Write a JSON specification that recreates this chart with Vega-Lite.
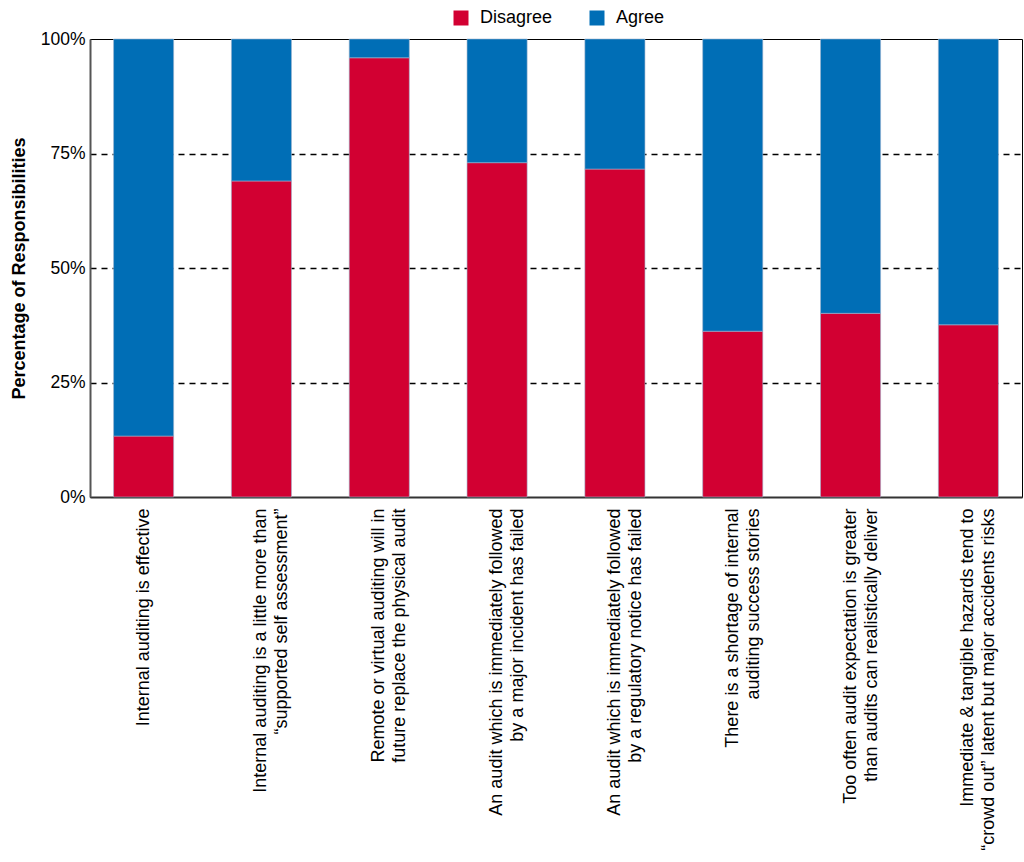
{
  "$schema": "https://vega.github.io/schema/vega-lite/v6.json",
  "width": 932,
  "height": 458,
  "autosize": "none",
  "padding": {"left": 90, "top": 39, "right": 2, "bottom": 365},
  "background": "white",
  "view": {"stroke": "black", "strokeWidth": 1},
  "data": {
    "values": [
      {"item": 1, "statement": ["Internal auditing is effective"], "response": "Disagree", "pct": 13.3},
      {"item": 1, "statement": ["Internal auditing is effective"], "response": "Agree", "pct": 86.7},
      {"item": 2, "statement": ["Internal auditing is a little more than", "“supported self assessment”"], "response": "Disagree", "pct": 69.0},
      {"item": 2, "statement": ["Internal auditing is a little more than", "“supported self assessment”"], "response": "Agree", "pct": 31.0},
      {"item": 3, "statement": ["Remote or virtual auditing will in", "future replace the physical audit"], "response": "Disagree", "pct": 95.9},
      {"item": 3, "statement": ["Remote or virtual auditing will in", "future replace the physical audit"], "response": "Agree", "pct": 4.1},
      {"item": 4, "statement": ["An audit which is immediately followed", "by a major incident has failed"], "response": "Disagree", "pct": 73.0},
      {"item": 4, "statement": ["An audit which is immediately followed", "by a major incident has failed"], "response": "Agree", "pct": 27.0},
      {"item": 5, "statement": ["An audit which is immediately followed", "by a regulatory notice has failed"], "response": "Disagree", "pct": 71.6},
      {"item": 5, "statement": ["An audit which is immediately followed", "by a regulatory notice has failed"], "response": "Agree", "pct": 28.4},
      {"item": 6, "statement": ["There is a shortage of internal", "auditing success  stories"], "response": "Disagree", "pct": 36.2},
      {"item": 6, "statement": ["There is a shortage of internal", "auditing success  stories"], "response": "Agree", "pct": 63.8},
      {"item": 7, "statement": ["Too often audit expectation is greater", "than audits can realistically deliver"], "response": "Disagree", "pct": 40.1},
      {"item": 7, "statement": ["Too often audit expectation is greater", "than audits can realistically deliver"], "response": "Agree", "pct": 59.9},
      {"item": 8, "statement": ["Immediate & tangible hazards tend to", "“crowd out” latent but major accidents risks"], "response": "Disagree", "pct": 37.6},
      {"item": 8, "statement": ["Immediate & tangible hazards tend to", "“crowd out” latent but major accidents risks"], "response": "Agree", "pct": 62.4}
    ]
  },
  "transform": [
    {"calculate": "datum.response === 'Disagree' ? 0 : 1", "as": "stackOrder"}
  ],
  "mark": {"type": "bar", "stroke": "#9db3cf", "strokeWidth": 0.6},
  "encoding": {
    "x": {
      "field": "item",
      "type": "ordinal",
      "title": null,
      "scale": {"paddingInner": 0.49, "paddingOuter": 0.2},
      "axis": {
        "labelExpr": "datum.value == 1 ? ['Internal auditing is effective'] : datum.value == 2 ? ['Internal auditing is a little more than', '“supported self assessment”'] : datum.value == 3 ? ['Remote or virtual auditing will in', 'future replace the physical audit'] : datum.value == 4 ? ['An audit which is immediately followed', 'by a major incident has failed'] : datum.value == 5 ? ['An audit which is immediately followed', 'by a regulatory notice has failed'] : datum.value == 6 ? ['There is a shortage of internal', 'auditing success  stories'] : datum.value == 7 ? ['Too often audit expectation is greater', 'than audits can realistically deliver'] : ['Immediate & tangible hazards tend to', '“crowd out” latent but major accidents risks']",
        "labelAngle": -90,
        "labelAlign": "right",
        "labelBaseline": "middle",
        "labelFont": "Liberation Sans",
        "labelFontSize": 18,
        "labelLineHeight": 21,
        "labelColor": "black",
        "labelPadding": 11,
        "ticks": false,
        "domainColor": "#333333",
        "domainWidth": 2,
        "labelLimit": 0
      }
    },
    "y": {
      "field": "pct",
      "type": "quantitative",
      "stack": "zero",
      "title": "Percentage of Responsibilities",
      "scale": {"domain": [0, 100], "nice": false},
      "axis": {
        "values": [0, 25, 50, 75, 100],
        "labelExpr": "datum.value + '%'",
        "labelFont": "Liberation Sans",
        "labelFontSize": 17.5,
        "labelColor": "black",
        "labelPadding": 5,
        "ticks": false,
        "domainColor": "#555555",
        "domainWidth": 2,
        "grid": true,
        "gridColor": "black",
        "gridWidth": 1.6,
        "gridDash": [6, 5],
        "gridOpacity": {"condition": {"test": "datum.value == 0 || datum.value == 100", "value": 0}, "value": 1},
        "titleFont": "Liberation Sans",
        "titleFontSize": 18,
        "titleFontWeight": "bold",
        "titleColor": "black",
        "titlePadding": 12
      }
    },
    "color": {
      "field": "response",
      "type": "nominal",
      "scale": {"domain": ["Disagree", "Agree"], "range": ["#D20032", "#006EB6"]},
      "legend": {
        "title": null,
        "orient": "none",
        "direction": "horizontal",
        "legendX": 362,
        "legendY": -30,
        "symbolType": "square",
        "symbolSize": 225,
        "symbolStrokeWidth": 0,
        "labelFont": "Liberation Sans",
        "labelFontSize": 18,
        "labelColor": "black",
        "labelOffset": 10,
        "columnPadding": 35
      }
    },
    "order": {"field": "stackOrder", "type": "quantitative"}
  }
}
